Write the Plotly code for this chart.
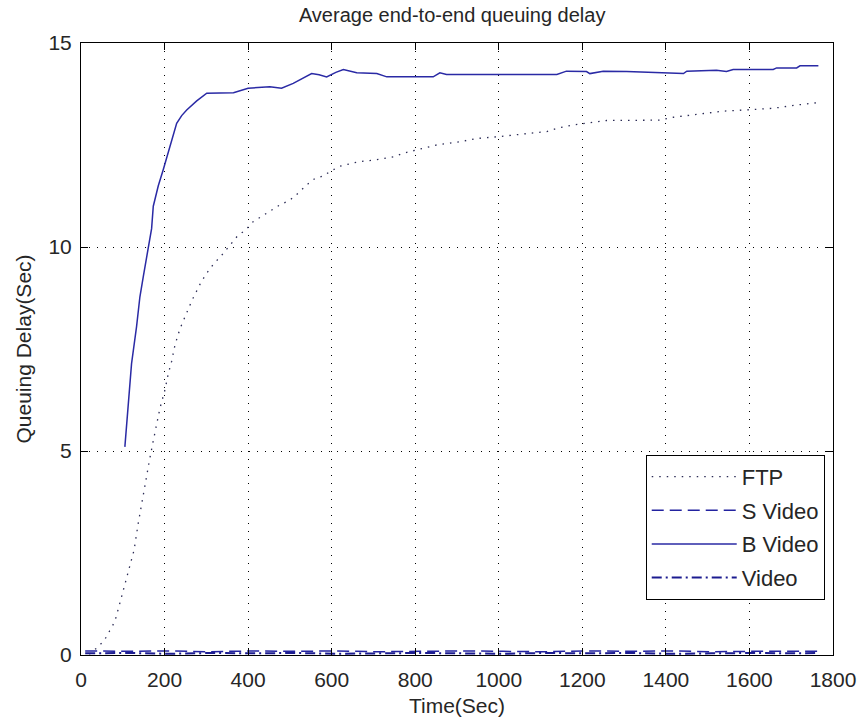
import plotly.graph_objects as go

# Time stamps (s) and average queuing delay (s) per traffic class
ftp_t = [20, 41, 57, 69, 81, 93, 105, 117, 127, 137, 145, 156, 164, 172, 180,
         189, 201, 209, 217, 225, 237, 250, 266, 287, 301, 317, 337, 373, 397,
         412, 436, 456, 476, 500, 520, 540, 560, 580, 596, 620, 644, 664, 700,
         748, 772, 803, 851, 907, 947, 995, 1115, 1139, 1178, 1258, 1386, 1418,
         1505, 1537, 1593, 1657, 1713, 1765]
ftp_y = [0.02, 0.2, 0.38, 0.61, 0.82, 1.27, 1.72, 2.16, 2.57, 3.23, 3.72, 4.29,
         4.78, 5.2, 5.64, 6.05, 6.5, 6.9, 7.2, 7.6, 8.0, 8.3, 8.7, 9.13, 9.36,
         9.58, 9.8, 10.25, 10.45, 10.62, 10.78, 10.9, 11.03, 11.15, 11.32, 11.52,
         11.68, 11.74, 11.85, 11.98, 12.05, 12.09, 12.13, 12.21, 12.3, 12.38,
         12.5, 12.58, 12.66, 12.7, 12.83, 12.91, 12.99, 13.1, 13.11, 13.18,
         13.28, 13.33, 13.36, 13.4, 13.48, 13.54]

bvideo_t = [105, 109, 113, 121, 133, 141, 149, 161, 169, 173, 185, 197, 213,
            229, 241, 253, 277, 301, 365, 400, 452, 480, 508, 530, 552, 570,
            588, 610, 628, 660, 708, 732, 843, 859, 875, 1139, 1162, 1210,
            1218, 1250, 1306, 1442, 1450, 1521, 1545, 1561, 1657, 1665, 1713,
            1721, 1765]
bvideo_y = [5.1, 5.6, 5.95, 7.14, 8.05, 8.78, 9.27, 10.0, 10.45, 11.0, 11.5,
            11.9, 12.45, 13.03, 13.22, 13.36, 13.58, 13.77, 13.78, 13.89, 13.93,
            13.89, 14.01, 14.12, 14.25, 14.22, 14.17, 14.28, 14.35, 14.27,
            14.25, 14.17, 14.17, 14.27, 14.23, 14.23, 14.31, 14.3, 14.25, 14.31,
            14.3, 14.25, 14.31, 14.33, 14.3, 14.35, 14.35, 14.39, 14.39, 14.44,
            14.44]

svideo_t = [10, 110, 210, 310, 410, 510, 610, 710, 810, 910, 1010, 1110, 1210,
            1310, 1410, 1510, 1610, 1710, 1765]
svideo_y = [0.10, 0.09, 0.10, 0.08, 0.10, 0.09, 0.10, 0.08, 0.09, 0.10, 0.09,
            0.08, 0.10, 0.09, 0.10, 0.08, 0.09, 0.10, 0.09]

video_t = [10, 110, 210, 310, 410, 510, 610, 710, 810, 910, 1010, 1110, 1210,
           1310, 1410, 1510, 1610, 1710, 1765]
video_y = [0.04, 0.05, 0.03, 0.05, 0.04, 0.05, 0.03, 0.04, 0.05, 0.04, 0.03,
           0.05, 0.04, 0.05, 0.03, 0.04, 0.05, 0.04, 0.05]

x_ticks = [0, 200, 400, 600, 800, 1000, 1200, 1400, 1600, 1800]
y_ticks = [0, 5, 10, 15]

FONT = "Liberation Sans, Arial, sans-serif"
TXT = "#262626"

fig = go.Figure()
fig.add_trace(go.Scatter(x=ftp_t, y=ftp_y, mode="lines", name="FTP",
                         legendgroup="a",
                         line=dict(color="#2b2b55", width=1.3, dash="1.5px,6px")))
fig.add_trace(go.Scatter(x=svideo_t, y=svideo_y, mode="lines", name="S Video",
                         legendgroup="b",
                         line=dict(color="#2323a0", width=1.5, dash="12px,6px")))
fig.add_trace(go.Scatter(x=bvideo_t, y=bvideo_y, mode="lines", name="B Video",
                         legendgroup="c",
                         line=dict(color="#2a2aa5", width=1.5)))
fig.add_trace(go.Scatter(x=video_t, y=video_y, mode="lines", name="Video",
                         legendgroup="d",
                         line=dict(color="#1c1c90", width=2,
                                   dash="10px,4px,2px,4px")))

axis_common = dict(
    showline=True, mirror="ticks", linecolor="black", linewidth=1,
    ticks="inside", ticklen=7, tickcolor="black",
    showgrid=True, gridcolor="black", gridwidth=1, griddash="1px,7px",
    zeroline=False, automargin=False,
    tickfont=dict(family=FONT, size=21, color=TXT),
)

fig.update_xaxes(range=[0, 1800], tickvals=x_ticks,
                 title=dict(text="Time(Sec)", font=dict(family=FONT, size=21, color=TXT),
                            standoff=8),
                 ticklabelstandoff=6, **axis_common)
fig.update_yaxes(range=[0, 15], tickvals=y_ticks,
                 title=dict(text="Queuing Delay(Sec)",
                            font=dict(family=FONT, size=21, color=TXT), standoff=11),
                 ticklabelstandoff=4, **axis_common)

fig.update_layout(
    width=858, height=721,
    margin=dict(l=81, r=25, t=43, b=66),
    paper_bgcolor="white", plot_bgcolor="white",
    title=dict(text="Average end-to-end queuing delay", x=0.527, xanchor="center",
               y=0.979, yanchor="middle",
               font=dict(family=FONT, size=20, color=TXT)),
    legend=dict(x=0.989, xanchor="right", y=0.327, yanchor="top",
                bgcolor="white", bordercolor="black", borderwidth=1,
                font=dict(family=FONT, size=22, color=TXT),
                tracegroupgap=2, itemwidth=85),
    showlegend=True,
)

fig.write_html("out.html")
